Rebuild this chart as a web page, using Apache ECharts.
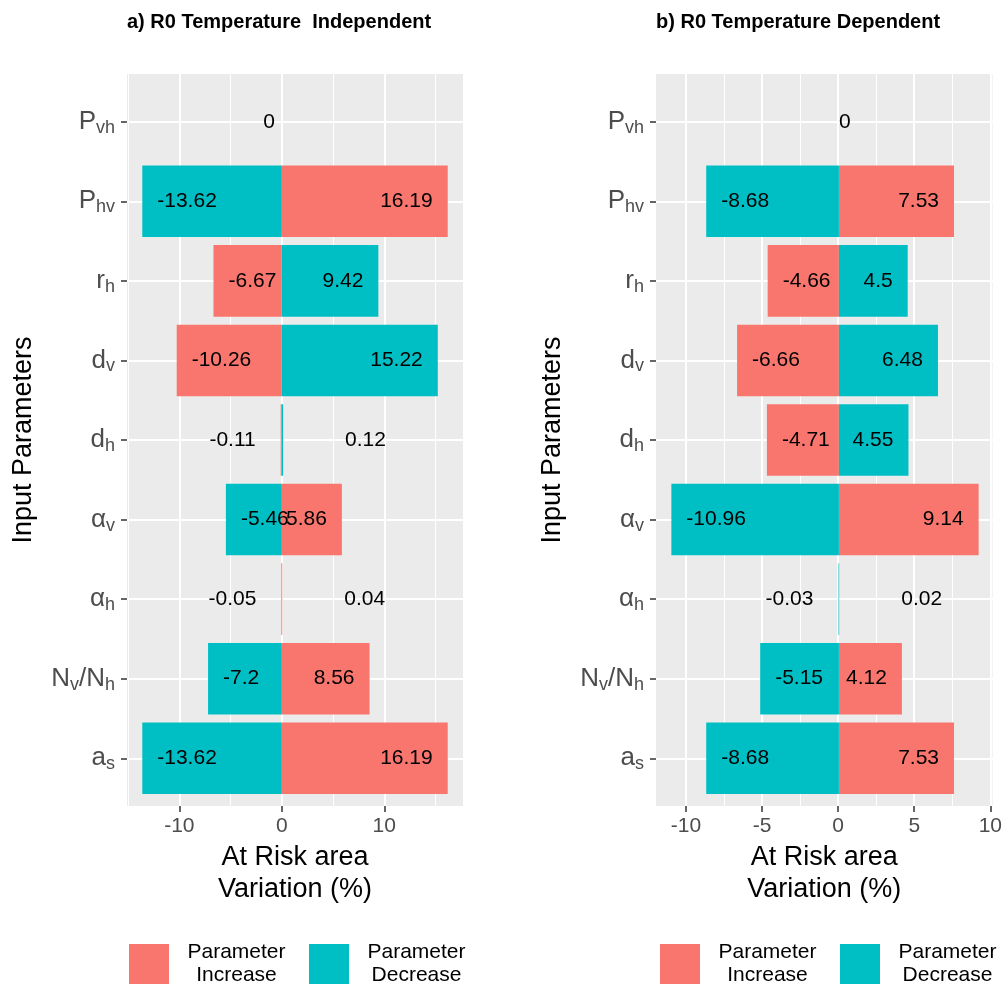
<!DOCTYPE html>
<html>
<head>
<meta charset="utf-8">
<script src="https://cdn.jsdelivr.net/npm/echarts@6/dist/echarts.min.js"></script>
<style>
  html, body { margin: 0; padding: 0; background: #fff; }
  #chart { width: 1005px; height: 988px; }
</style>
</head>
<body>
<div id="chart"></div>
<script>
var FONT = '"Liberation Sans", Arial, sans-serif';

var categories = ['P_vh', 'P_hv', 'r_h', 'd_v', 'd_h', 'α_v', 'α_h', 'N_v/N_h', 'a_s'];

// a) R0 temperature independent
var increaseA = [0, 16.19, -6.67, -10.26, -0.11, 5.86, 0.04, 8.56, 16.19];
var decreaseA = [0, -13.62, 9.42, 15.22, 0.12, -5.46, -0.05, -7.2, -13.62];
var majorTicksA = [-10, 0, 10];
var minorTicksA = [-15, -5, 5, 15];

// b) R0 temperature dependent
var increaseB = [0, 7.53, -4.66, -6.66, -4.71, 9.14, 0.02, 4.12, 7.53];
var decreaseB = [0, -8.68, 4.5, 6.48, 4.55, -10.96, -0.03, -5.15, -8.68];
var majorTicksB = [-10, -5, 0, 5, 10];
var minorTicksB = [-7.5, -2.5, 2.5, 7.5];

var INC_COLOR = '#F8766D';
var DEC_COLOR = '#00BFC4';
var AXIS_TEXT = '#4D4D4D';

var panelTop = 74, panelHeight = 732;
var catPad = panelHeight * 0.1 / 9.2;   // ggplot adds 0.6 of a band, echarts 0.5

var panels = [
  { title: 'a) R0 Temperature  Independent', left: 127, width: 336,
    inc: increaseA, dec: decreaseA, major: majorTicksA, minor: minorTicksA,
    zeroSide: 'left', legendLeft: 129 },
  { title: 'b) R0 Temperature Dependent', left: 656, width: 338,
    inc: increaseB, dec: decreaseB, major: majorTicksB, minor: minorTicksB,
    zeroSide: 'right', legendLeft: 660 }
];

// same expansion as ggplot: 5% of the data range on each side
function limits(a, b) {
  var all = a.concat(b, [0]);
  var lo = Math.min.apply(null, all), hi = Math.max.apply(null, all);
  var pad = (hi - lo) * 0.05;
  return [lo - pad, hi + pad];
}

function barItems(values, panel, isDecrease) {
  return values.map(function (v) {
    var label;
    if (v === 0) {
      label = isDecrease ? { show: false }
        : { position: panel.zeroSide, distance: panel.zeroSide === 'left' ? 7 : 0 };
    } else if (Math.abs(v) >= 1) {
      label = { position: v < 0 ? 'insideLeft' : 'insideRight', distance: 15 };
    } else {
      label = v < 0 ? { position: 'left', distance: 25 } : { position: 'right', distance: 62 };
    }
    return { value: v, label: label };
  });
}

function subscript(name) {
  return name.replace(/([^_\/]+)_([a-z]+)/g, '{m|$1}{s|$2}');
}

var grids = [], xAxes = [], yAxes = [], series = [], titles = [], legends = [];

panels.forEach(function (p, i) {
  var lim = limits(p.inc, p.dec);

  /* background panel + vertical grid */
  grids.push({
    left: p.left, top: panelTop, width: p.width, height: panelHeight,
    show: true, backgroundColor: '#EBEBEB', borderWidth: 0
  });
  /* bars area (inset so the bands match ggplot's expansion) */
  grids.push({
    left: p.left, top: panelTop + catPad, width: p.width, height: panelHeight - 2 * catPad
  });

  xAxes.push({
    type: 'value', gridIndex: 2 * i, min: lim[0], max: lim[1],
    axisLine: { show: false, onZero: false },
    axisTick: { show: true, length: 6, customValues: p.major, lineStyle: { color: '#333', width: 1.5 } },
    axisLabel: { customValues: p.major, color: AXIS_TEXT, fontSize: 21, margin: 10, fontFamily: FONT },
    splitLine: { show: true, lineStyle: { color: '#fff', width: 2 } },
    name: 'At Risk area\nVariation (%)',
    nameLocation: 'middle', nameGap: 34,
    nameTextStyle: { fontSize: 27, color: '#000', lineHeight: 32, fontFamily: FONT }
  });
  xAxes.push({
    type: 'value', gridIndex: 2 * i, min: lim[0], max: lim[1],
    axisLine: { show: false, onZero: false },
    axisTick: { show: false, customValues: p.minor },
    axisLabel: { show: false, customValues: p.minor },
    splitLine: { show: true, lineStyle: { color: '#fff', width: 1 } }
  });
  xAxes.push({
    type: 'value', gridIndex: 2 * i + 1, min: lim[0], max: lim[1], show: false,
    axisLine: { onZero: false }
  });

  yAxes.push({ type: 'value', gridIndex: 2 * i, min: 0, max: 1, show: false, axisLine: { onZero: false } });
  yAxes.push({
    type: 'category', gridIndex: 2 * i + 1, inverse: true, data: categories,
    axisLine: { show: false, onZero: false },
    axisTick: { show: true, alignWithLabel: true, interval: 0, length: 6,
      lineStyle: { color: '#333', width: 1.5 } },
    axisLabel: {
      interval: 0, margin: 12, color: AXIS_TEXT, fontSize: 26, lineHeight: 30, fontFamily: FONT,
      formatter: subscript,
      rich: {
        m: { fontSize: 26, lineHeight: 30, color: AXIS_TEXT, fontFamily: FONT },
        s: { fontSize: 18, lineHeight: 30, verticalAlign: 'bottom', color: AXIS_TEXT, fontFamily: FONT }
      }
    },
    splitLine: { show: true, alignWithLabel: true, interval: 0, lineStyle: { color: '#fff', width: 2 } },
    name: 'Input Parameters', nameLocation: 'middle', nameGap: 90,
    nameTextStyle: { fontSize: 27, color: '#000', fontFamily: FONT }
  });

  var barLabel = { show: true, formatter: '{c}', fontSize: 21, color: '#000', fontFamily: FONT };
  series.push({
    name: 'Increase', type: 'bar', xAxisIndex: 3 * i + 2, yAxisIndex: 2 * i + 1,
    stack: 'p' + i, barWidth: '90%', itemStyle: { color: INC_COLOR },
    label: barLabel, data: barItems(p.inc, p, false)
  });
  series.push({
    name: 'Decrease', type: 'bar', xAxisIndex: 3 * i + 2, yAxisIndex: 2 * i + 1,
    stack: 'p' + i, barWidth: '90%', itemStyle: { color: DEC_COLOR },
    label: barLabel, data: barItems(p.dec, p, true)
  });

  titles.push({
    text: p.title, left: p.left, top: 12, padding: 0,
    textStyle: { fontSize: 20, fontWeight: 'bold', color: '#000', fontFamily: FONT }
  });

  legends.push({
    data: ['Increase', 'Decrease'],
    left: p.legendLeft, top: 942, padding: 0, itemGap: 20,
    icon: 'rect', itemWidth: 40, itemHeight: 40,
    formatter: function (name) { return '{a|Parameter}\n{a|' + name + '}'; },
    textStyle: {
      fontSize: 21, color: '#000', fontFamily: FONT,
      rich: { a: { fontSize: 21, lineHeight: 23, width: 105, padding: [0, 0, 0, 10],
        align: 'center', color: '#000', fontFamily: FONT } }
    }
  });
});

var chart = echarts.init(document.getElementById('chart'), null, { renderer: 'canvas' });
chart.setOption({
  animation: false,
  backgroundColor: '#fff',
  title: titles,
  legend: legends,
  grid: grids,
  xAxis: xAxes,
  yAxis: yAxes,
  series: series
});
</script>
</body>
</html>
